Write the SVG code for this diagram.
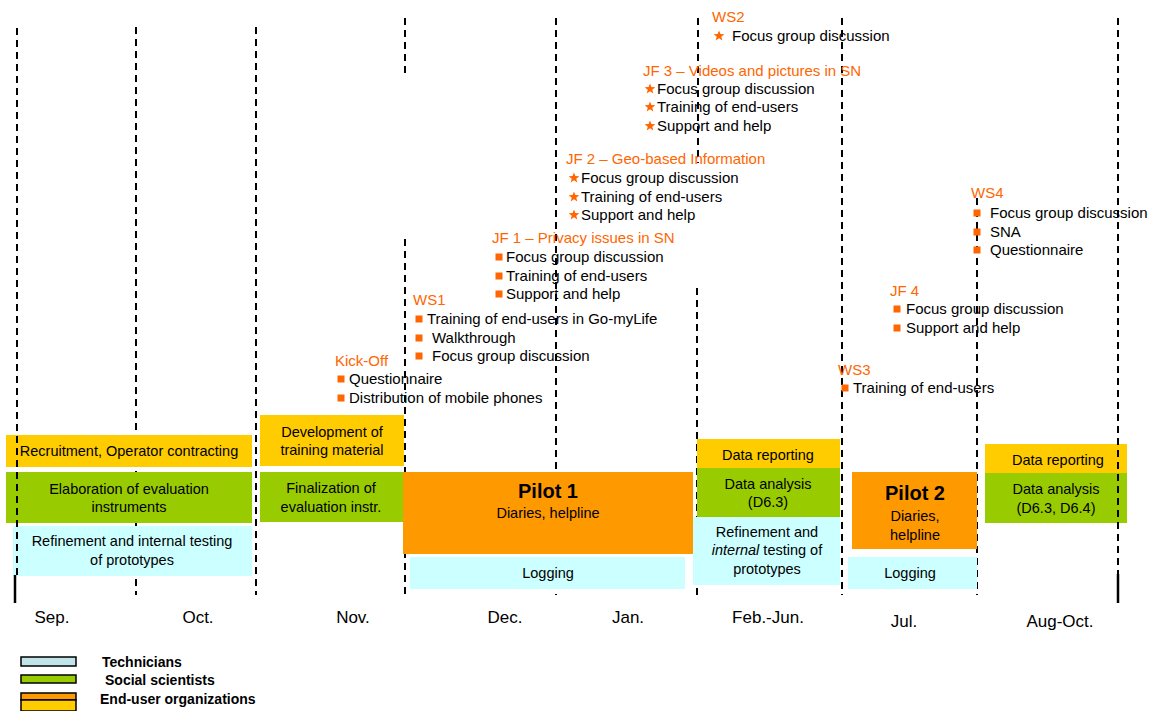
<svg xmlns="http://www.w3.org/2000/svg" width="1160" height="711" viewBox="0 0 1160 711">
<style>
text{font-family:"Liberation Sans",Arial,sans-serif;fill:#000}
.t{font-size:15px}
.c{font-size:14.5px;text-anchor:middle}
.h{font-size:15px;fill:#ff6600}
.m{font-size:17px;text-anchor:middle}
.lg{font-size:14px;font-weight:bold}
.p{font-size:20px;font-weight:bold;text-anchor:middle}
.dash{stroke:#000;stroke-width:2;stroke-dasharray:7 5;fill:none}
.solid{stroke:#000;stroke-width:2.5;fill:none}
.y{fill:#ffcc00}.g{fill:#99cc00}.o{fill:#ff9900}.cy{fill:#ccffff}
.b{fill:#ff6600}
</style>
<defs>
<polygon id="star" points="0,-5.6 1.4,-1.9 5.3,-1.7 2.25,0.75 3.3,4.5 0,2.35 -3.3,4.5 -2.25,0.75 -5.3,-1.7 -1.4,-1.9" class="b"/>
<rect id="sq" x="-3.5" y="-3.5" width="7" height="7" class="b"/>
</defs>
<rect width="1160" height="711" fill="#fff"/>
<g id="gridlines">
<line class="dash" x1="136" y1="27" x2="136" y2="595"/>
<line class="dash" x1="256" y1="27" x2="256" y2="595"/>
<line class="dash" x1="405" y1="18" x2="405" y2="73"/>
<line class="dash" x1="405" y1="239" x2="405" y2="595"/>
<line class="dash" x1="556" y1="18" x2="556" y2="595"/>
<line class="dash" x1="698" y1="18" x2="698" y2="163"/>
<line class="dash" x1="697" y1="288" x2="697" y2="595"/>
<line class="dash" x1="842" y1="18" x2="842" y2="595"/>
<line class="dash" x1="977" y1="198" x2="977" y2="595"/>
</g>
<g id="bar-recruitment"><rect class="y" x="6" y="435" width="246" height="32"/><text class="c" x="129" y="456">Recruitment, Operator contracting</text></g>
<g id="bar-elaboration"><rect class="g" x="6" y="472" width="246" height="51"/><text class="c" x="129" y="494">Elaboration of evaluation</text><text class="c" x="129" y="512">instruments</text></g>
<g id="bar-refinement1"><rect class="cy" x="13" y="526" width="239" height="50"/><text class="c" x="132" y="546">Refinement and internal testing</text><text class="c" x="132" y="565">of prototypes</text></g>
<g id="bar-development"><rect class="y" x="260" y="415" width="144" height="51"/><text class="c" x="332" y="437">Development of</text><text class="c" x="332" y="455">training material</text></g>
<g id="bar-finalization"><rect class="g" x="260" y="472" width="143" height="50"/><text class="c" x="331" y="493">Finalization of</text><text class="c" x="331" y="512">evaluation instr.</text></g>
<g id="bar-pilot1"><rect class="o" x="403" y="472" width="290" height="82"/><text class="p" x="548" y="498">Pilot 1</text><text class="c" x="548" y="518">Diaries, helpline</text></g>
<g id="bar-logging1"><rect class="cy" x="410" y="557" width="275" height="32"/><text class="c" x="548" y="578">Logging</text></g>
<g id="bar-reporting1"><rect class="y" x="697" y="439" width="143" height="29"/><text class="c" x="768" y="460">Data reporting</text></g>
<g id="bar-analysis1"><rect class="g" x="697" y="468" width="143" height="49"/><text class="c" x="768" y="489">Data analysis</text><text class="c" x="768" y="507">(D6.3)</text></g>
<g id="bar-refinement2"><rect class="cy" x="693" y="517" width="147" height="68"/><text class="c" x="767" y="537">Refinement and</text><text class="c" x="767" y="555"><tspan font-style="italic">internal</tspan> testing of</text><text class="c" x="767" y="574">prototypes</text></g>
<g id="bar-pilot2"><rect class="o" x="852" y="472" width="125" height="77"/><text class="p" x="915" y="500">Pilot 2</text><text class="c" x="915" y="521">Diaries,</text><text class="c" x="915" y="540">helpline</text></g>
<g id="bar-logging2"><rect class="cy" x="848" y="557" width="129" height="32"/><text class="c" x="910" y="578">Logging</text></g>
<g id="bar-reporting2"><rect class="y" x="985" y="444" width="142" height="29"/><text class="c" x="1058" y="465">Data reporting</text></g>
<g id="bar-analysis2"><rect class="g" x="985" y="473" width="142" height="50"/><text class="c" x="1056" y="494">Data analysis</text><text class="c" x="1056" y="513">(D6.3, D6.4)</text></g>
<g id="gridlines-front">
<line class="dash" x1="17" y1="28" x2="17" y2="575"/>
<line class="solid" x1="15" y1="575" x2="15" y2="603"/>
<line class="dash" x1="1118" y1="18" x2="1118" y2="574"/>
<line class="solid" x1="1118" y1="574" x2="1118" y2="603"/>
</g>
<g id="months">
<text class="m" x="52" y="623">Sep.</text>
<text class="m" x="198" y="623">Oct.</text>
<text class="m" x="353" y="623">Nov.</text>
<text class="m" x="505" y="623">Dec.</text>
<text class="m" x="628" y="623">Jan.</text>
<text class="m" x="768" y="623">Feb.-Jun.</text>
<text class="m" x="904" y="627">Jul.</text>
<text class="m" x="1060" y="627">Aug-Oct.</text>
</g>
<g id="kickoff">
<text class="h" x="335" y="366">Kick-Off</text>
<use href="#sq" x="341" y="379"/><text class="t" x="349" y="384">Questionnaire</text>
<use href="#sq" x="341" y="398"/><text class="t" x="349" y="403">Distribution of mobile phones</text>
</g>
<g id="ws1">
<text class="h" x="413" y="305">WS1</text>
<use href="#sq" x="419" y="319"/><text class="t" x="427" y="324">Training of end-users in Go-myLife</text>
<use href="#sq" x="419" y="338"/><text class="t" x="432" y="343">Walkthrough</text>
<use href="#sq" x="419" y="356"/><text class="t" x="432" y="361">Focus group discussion</text>
</g>
<g id="jf1">
<text class="h" x="492" y="243">JF 1 – Privacy issues in SN</text>
<use href="#sq" x="499" y="257"/><text class="t" x="506" y="262">Focus group discussion</text>
<use href="#sq" x="499" y="276"/><text class="t" x="506" y="281">Training of end-users</text>
<use href="#sq" x="499" y="294"/><text class="t" x="506" y="299">Support and help</text>
</g>
<g id="jf2">
<text class="h" x="566" y="164">JF 2 – Geo-based Information</text>
<use href="#star" x="574" y="178"/><text class="t" x="581" y="183">Focus group discussion</text>
<use href="#star" x="574" y="197"/><text class="t" x="581" y="202">Training of end-users</text>
<use href="#star" x="574" y="215"/><text class="t" x="581" y="220">Support and help</text>
</g>
<g id="jf3">
<text class="h" x="643" y="76">JF 3 – Videos and pictures in SN</text>
<use href="#star" x="650" y="89"/><text class="t" x="657" y="94">Focus group discussion</text>
<use href="#star" x="650" y="107"/><text class="t" x="657" y="112">Training of end-users</text>
<use href="#star" x="650" y="126"/><text class="t" x="657" y="131">Support and help</text>
</g>
<g id="ws2">
<text class="h" x="712" y="22">WS2</text>
<use href="#star" x="719" y="36"/><text class="t" x="732" y="41">Focus group discussion</text>
</g>
<g id="ws3">
<text class="h" x="838" y="375">WS3</text>
<use href="#sq" x="845" y="388"/><text class="t" x="853" y="393">Training of end-users</text>
</g>
<g id="jf4">
<text class="h" x="890" y="296">JF 4</text>
<use href="#sq" x="897" y="309"/><text class="t" x="906" y="314">Focus group discussion</text>
<use href="#sq" x="897" y="328"/><text class="t" x="906" y="333">Support and help</text>
</g>
<g id="ws4">
<text class="h" x="971" y="198">WS4</text>
<use href="#sq" x="977" y="213"/><text class="t" x="990" y="218">Focus group discussion</text>
<use href="#sq" x="977" y="232"/><text class="t" x="990" y="237">SNA</text>
<use href="#sq" x="977" y="250"/><text class="t" x="990" y="255">Questionnaire</text>
</g>
<g id="legend">
<rect x="21" y="657" width="55" height="9" fill="#c0e4ea" stroke="#000" stroke-width="1.5"/>
<rect x="21" y="675" width="55" height="8" class="g" stroke="#000" stroke-width="1.5"/>
<rect x="21" y="693" width="55" height="7" class="o" stroke="#000" stroke-width="1.5"/>
<rect x="21" y="700" width="55" height="11" class="y" stroke="#000" stroke-width="1.5"/>
<text class="lg" x="102" y="667">Technicians</text>
<text class="lg" x="105" y="685">Social scientists</text>
<text class="lg" x="100" y="704">End-user organizations</text>
</g>
</svg>
